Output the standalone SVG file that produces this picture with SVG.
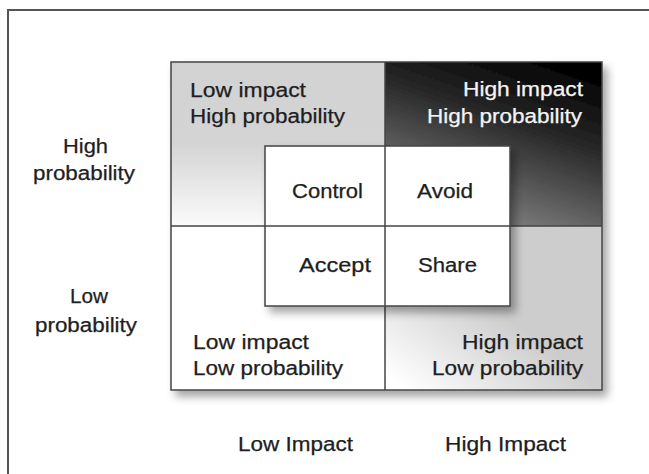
<svg xmlns="http://www.w3.org/2000/svg" width="649" height="474" viewBox="0 0 649 474">
  <style>
    text { font-family: "Liberation Sans", Arial, sans-serif; font-size: 20px; fill: #1e1e1e; stroke: #1e1e1e; stroke-width: 0.25; }
    .light { fill: #f4f4f4; stroke: #f4f4f4; }
    .cell { stroke: #444; stroke-width: 1.5; }
    .line { stroke: #444; stroke-width: 1.5; fill: none; }
  </style>
  <defs>
    <linearGradient id="gTL" x1="0" y1="0" x2="0" y2="1">
      <stop offset="0" stop-color="#d2d2d2"/>
      <stop offset="0.5" stop-color="#d4d4d4"/>
      <stop offset="1" stop-color="#fbfbfb"/>
    </linearGradient>
    <linearGradient id="gTR" x1="0.75" y1="0" x2="0.3" y2="1">
      <stop offset="0" stop-color="#030303"/>
      <stop offset="0.35" stop-color="#262626"/>
      <stop offset="1" stop-color="#8c8c8c"/>
    </linearGradient>
    <linearGradient id="gBR" x1="0" y1="0.9" x2="0.45" y2="0.45">
      <stop offset="0" stop-color="#ffffff"/>
      <stop offset="1" stop-color="#cdcdcd"/>
    </linearGradient>
    <filter id="shadow" x="-10%" y="-10%" width="130%" height="130%">
      <feDropShadow dx="5" dy="6" stdDeviation="4" flood-color="#000" flood-opacity="0.35"/>
    </filter>
  </defs>

  <rect width="649" height="474" fill="#fff"/>
  <!-- outer frame (top and left edges) -->
  <path d="M8 474 V10 H649" fill="none" stroke="#555" stroke-width="2"/>

  <!-- axis labels -->
  <g id="label-high-probability">
    <text x="63" y="153" textLength="45" lengthAdjust="spacingAndGlyphs">High</text>
    <text x="33" y="180" textLength="102" lengthAdjust="spacingAndGlyphs">probability</text>
  </g>
  <g id="label-low-probability">
    <text x="70" y="303" textLength="38" lengthAdjust="spacingAndGlyphs">Low</text>
    <text x="35" y="332" textLength="102" lengthAdjust="spacingAndGlyphs">probability</text>
  </g>
  <g id="label-low-impact">
    <text x="238" y="451" textLength="115" lengthAdjust="spacingAndGlyphs">Low Impact</text>
  </g>
  <g id="label-high-impact">
    <text x="445" y="451" textLength="121" lengthAdjust="spacingAndGlyphs">High Impact</text>
  </g>

  <!-- 2x2 matrix -->
  <g id="matrix" filter="url(#shadow)">
    <rect x="171" y="62" width="431" height="328" fill="#fff"/>
    <rect id="q-tl" x="171" y="62" width="214" height="164" fill="url(#gTL)"/>
    <rect id="q-tr" x="385" y="62" width="217" height="164" fill="url(#gTR)"/>
    <rect id="q-bl" x="171" y="226" width="214" height="164" fill="#fff"/>
    <rect id="q-br" x="385" y="226" width="217" height="164" fill="url(#gBR)"/>
    <rect x="171" y="62" width="431" height="328" class="line"/>
  </g>
  <g id="grid-lines">
    <line x1="385" y1="62" x2="385" y2="390" class="line"/>
    <line x1="171" y1="226" x2="602" y2="226" class="line"/>
  </g>

  <g id="quadrant-low-high">
    <text x="190" y="97" textLength="116" lengthAdjust="spacingAndGlyphs">Low impact</text>
    <text x="190" y="123" textLength="155" lengthAdjust="spacingAndGlyphs">High probability</text>
  </g>
  <g id="quadrant-high-high">
    <text class="light" x="463" y="96" textLength="120" lengthAdjust="spacingAndGlyphs">High impact</text>
    <text class="light" x="427" y="123" textLength="155" lengthAdjust="spacingAndGlyphs">High probability</text>
  </g>
  <g id="quadrant-low-low">
    <text x="193" y="349" textLength="116" lengthAdjust="spacingAndGlyphs">Low impact</text>
    <text x="193" y="375" textLength="150" lengthAdjust="spacingAndGlyphs">Low probability</text>
  </g>
  <g id="quadrant-high-low">
    <text x="462" y="349" textLength="121" lengthAdjust="spacingAndGlyphs">High impact</text>
    <text x="432" y="375" textLength="151" lengthAdjust="spacingAndGlyphs">Low probability</text>
  </g>

  <!-- response strategies box -->
  <g id="strategies" filter="url(#shadow)">
    <rect x="265" y="146" width="245" height="160" fill="#fff" class="cell"/>
  </g>
  <g id="strategy-lines">
    <line x1="385" y1="146" x2="385" y2="306" class="line"/>
    <line x1="265" y1="226" x2="510" y2="226" class="line"/>
  </g>
  <g id="control"><text x="292" y="198" textLength="71" lengthAdjust="spacingAndGlyphs">Control</text></g>
  <g id="avoid"><text x="417" y="198" textLength="56" lengthAdjust="spacingAndGlyphs">Avoid</text></g>
  <g id="accept"><text x="299" y="272" textLength="72" lengthAdjust="spacingAndGlyphs">Accept</text></g>
  <g id="share"><text x="418" y="272" textLength="59" lengthAdjust="spacingAndGlyphs">Share</text></g>
</svg>
